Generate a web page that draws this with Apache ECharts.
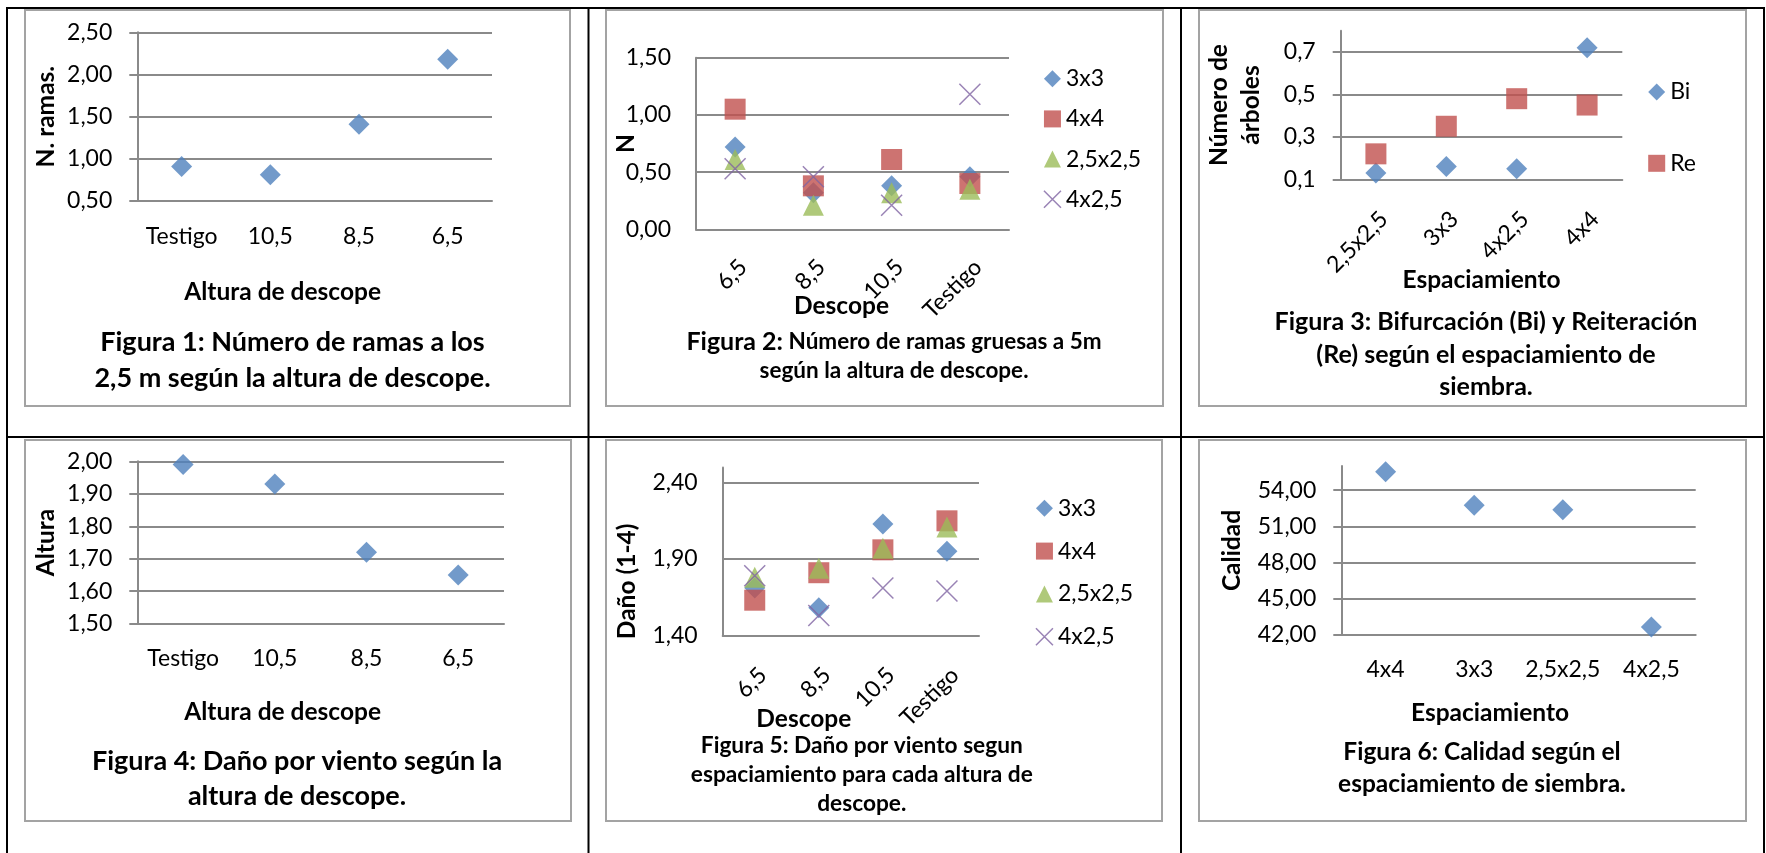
<!DOCTYPE html>
<html><head><meta charset="utf-8">
<script src="https://cdn.jsdelivr.net/npm/echarts@6/dist/echarts.min.js"></script>
<style>html,body{margin:0;padding:0;background:#fff}#c{width:1766px;height:853px}</style>
</head><body><div id="c"></div>
<script>
// ---------------- data ----------------
const fig1Categories = ['Testigo', '10,5', '8,5', '6,5'];
const fig1Values = [0.91, 0.81, 1.41, 2.18];
const fig1YTicks = [0.5, 1.0, 1.5, 2.0, 2.5];

const fig2Categories = ['6,5', '8,5', '10,5', 'Testigo'];
const fig2SeriesNames = ['3x3', '4x4', '2,5x2,5', '4x2,5'];
const fig2_3x3 = [0.72, 0.32, 0.38, 0.46];
const fig2_4x4 = [1.05, 0.38, 0.61, 0.40];
const fig2_25x25 = [0.61, 0.21, 0.32, 0.35];
const fig2_4x25 = [0.53, 0.46, 0.21, 1.18];
const fig2YTicks = [0, 0.5, 1.0, 1.5];

const fig3Categories = ['2,5x2,5', '3x3', '4x2,5', '4x4'];
const fig3SeriesNames = ['Bi', 'Re'];
const fig3Bi = [0.13, 0.16, 0.15, 0.72];
const fig3Re = [0.22, 0.35, 0.48, 0.45];
const fig3YTicks = [0.1, 0.3, 0.5, 0.7];
const fig3YMax = 0.8;

const fig4Categories = ['Testigo', '10,5', '8,5', '6,5'];
const fig4Values = [1.99, 1.93, 1.72, 1.65];
const fig4YTicks = [1.5, 1.6, 1.7, 1.8, 1.9, 2.0];

const fig5Categories = ['6,5', '8,5', '10,5', 'Testigo'];
const fig5SeriesNames = ['3x3', '4x4', '2,5x2,5', '4x2,5'];
const fig5_3x3 = [1.71, 1.58, 2.13, 1.95];
const fig5_4x4 = [1.63, 1.81, 1.96, 2.15];
const fig5_25x25 = [1.78, 1.84, 1.97, 2.11];
const fig5_4x25 = [1.79, 1.53, 1.71, 1.69];
const fig5YTicks = [1.4, 1.9, 2.4];
const fig5YMax = 2.5;

const fig6Categories = ['4x4', '3x3', '2,5x2,5', '4x2,5'];
const fig6Values = [55.53, 52.74, 52.38, 42.66];
const fig6YTicks = [42, 45, 48, 51, 54];
const fig6YMax = 56;

// ---------------- styles ----------------
const FONT = 'Lato, "Open Sans", "DejaVu Sans", sans-serif';
const GRIDC = '#8a8a8a';
const FRAMEC = '#a3a3a3';
const COL = { blue: '#4F81BD', red: '#C0504D', green: '#9BBB59', purple: '#8064A2' };
const XPATH = 'path://M0,0L20,20M20,0L0,20';
const SYM = 21;
const TICKFS = 23;
const TITLEFS = 24.5;

const fmt = (v, d) => v.toFixed(d).replace('.', ',');
const step = t => +(t[1] - t[0]).toFixed(6);

const grids = [
  { left: 137.3, top: 32.3, width: 354.7, height: 168.7 },
  { left: 696, top: 57.7, width: 313, height: 171.6 },
  { left: 1340.7, top: 30.8, width: 281.6, height: 148.5 },
  { left: 137.3, top: 461.3, width: 366.7, height: 162.4 },
  { left: 722.7, top: 467.4, width: 256.3, height: 167.9 },
  { left: 1341.3, top: 466, width: 354.4, height: 169 }
].map(g => Object.assign({ containLabel: false, outerBoundsMode: 'none' }, g));

function xAxisCfg(gi, cats, o) {
  return {
    gridIndex: gi, type: 'category', data: cats, boundaryGap: true,
    axisLine: { show: true, onZero: false, lineStyle: { color: GRIDC, width: 2 } },
    axisTick: { show: false },
    splitLine: { show: false },
    axisLabel: Object.assign({
      interval: 0, margin: o.margin, fontSize: TICKFS, fontFamily: FONT, color: '#000'
    }, o.rotate ? { rotate: 45, align: 'right', verticalAlign: 'top' } : {}),
    name: o.name, nameLocation: 'middle', nameGap: o.nameGap, nameMoveOverlap: false,
    nameTextStyle: { fontSize: TITLEFS, fontWeight: 'bold', fontFamily: FONT, color: '#000',
      padding: [0, o.padR || 0, 0, 0] }
  };
}

function yAxisCfg(gi, ticks, max, o) {
  return {
    gridIndex: gi, type: 'value', min: ticks[0], max: max, interval: step(ticks),
    axisLine: { show: true, lineStyle: { color: GRIDC, width: 2 } },
    axisTick: { show: o.ticks, length: 8, inside: false, customValues: ticks,
      lineStyle: { color: GRIDC, width: 2 } },
    axisLabel: { margin: 25, fontSize: TICKFS, fontFamily: FONT, color: '#000',
      customValues: ticks, formatter: v => fmt(v, o.dec) },
    splitLine: { show: true, lineStyle: { color: GRIDC, width: 2 } },
    name: o.name, nameLocation: 'middle', nameRotate: 90, nameGap: o.nameGap, nameMoveOverlap: false,
    nameTextStyle: { fontSize: TITLEFS, fontWeight: 'bold', fontFamily: FONT, color: '#000',
      lineHeight: o.lh || null, align: 'center', padding: [0, o.padR || 0, 0, 0] }
  };
}

const styles4 = [
  { symbol: 'diamond', itemStyle: { color: COL.blue } },
  { symbol: 'rect', itemStyle: { color: COL.red } },
  { symbol: 'triangle', itemStyle: { color: COL.green } },
  { symbol: XPATH, itemStyle: { color: 'rgba(0,0,0,0)', borderColor: COL.purple, borderWidth: 1.5 } }
];
const icons4 = ['diamond', 'rect', 'triangle', XPATH];

function sc(name, gi, data, st) {
  return Object.assign({
    type: 'scatter', name: name, xAxisIndex: gi, yAxisIndex: gi, data: data,
    symbolSize: SYM, silent: true, z: 3
  }, st);
}

function legendCfg(names, left, top, gap) {
  return {
    orient: 'vertical', left: left, top: top, padding: 0, itemGap: gap,
    itemWidth: 17, itemHeight: 17, selectedMode: false, align: 'left',
    textStyle: { fontSize: TICKFS, fontFamily: FONT, color: '#000', lineHeight: 23 },
    data: names.map((n, i) => ({
      name: n, icon: names.length === 2 ? ['diamond', 'rect'][i] : icons4[i],
      itemStyle: i === 3 ? { color: 'rgba(0,0,0,0)', borderColor: COL.purple, borderWidth: 1.5 } : undefined
    }))
  };
}

// ---------------- graphics: table, frames, captions ----------------
const blk = (x1, y1, x2, y2) => ({ type: 'line', silent: true, z: 10,
  shape: { x1, y1, x2, y2 }, style: { stroke: '#000', lineWidth: 2 } });
const frame = (x, y, w, h) => ({ type: 'rect', silent: true, z: 1,
  shape: { x, y, width: w, height: h }, style: { fill: 'none', stroke: FRAMEC, lineWidth: 2 } });
const caption = (x, y, text, fs, lh) => ({ type: 'text', silent: true, z: 5, x, y,
  style: { text, fontSize: fs, fontWeight: 'bold', fontFamily: FONT, fill: '#000',
    align: 'center', verticalAlign: 'middle', lineHeight: lh } });

const graphics = [
  blk(6, 8, 1765, 8), blk(7, 8, 7, 853), blk(588.5, 8, 588.5, 853), blk(1181, 8, 1181, 853),
  blk(1764, 8, 1764, 853), blk(6, 437, 1765, 437),
  frame(25, 10, 545, 396), frame(606, 10, 557, 396), frame(1199, 10, 547, 396),
  frame(25, 440, 546, 381), frame(606, 440, 556, 381), frame(1199, 440, 547, 381),
  caption(292.5, 360, 'Figura 1: Número de ramas a los\n2,5 m según la altura de descope.', 27, 36),
  { type: 'text', silent: true, z: 5, x: 894, y: 356.2,
    style: { text: '{a|Figura 2:}{b| Número de ramas gruesas a 5m}\n{b|según la altura de descope.}',
      fontFamily: FONT, fontWeight: 'bold', fill: '#000', align: 'center', verticalAlign: 'middle',
      rich: { a: { fontSize: 25, fontWeight: 'bold', fontFamily: FONT, lineHeight: 29 },
              b: { fontSize: 22.5, fontWeight: 'bold', fontFamily: FONT, lineHeight: 29 } } } },
  caption(1486, 354.5, 'Figura 3: Bifurcación (Bi) y Reiteración\n(Re) según el espaciamiento de\nsiembra.', 25, 32.2),
  caption(297, 779.2, 'Figura 4: Daño por viento según la\naltura de descope.', 27, 35),
  caption(861.8, 775, 'Figura 5: Daño por viento segun\nespaciamiento para cada altura de\ndescope.', 22.7, 29),
  caption(1482, 768, 'Figura 6: Calidad según el\nespaciamiento de siembra.', 24.5, 32.7)
];

const option = {
  animation: false,
  backgroundColor: '#fff',
  grid: grids,
  xAxis: [
    xAxisCfg(0, fig1Categories, { margin: 24.5, name: 'Altura de descope', nameGap: 78.7, padR: 64 }),
    xAxisCfg(1, fig2Categories, { margin: 26, rotate: true, name: 'Descope', nameGap: 64.4, padR: 22 }),
    xAxisCfg(2, fig3Categories, { margin: 28, rotate: true, name: 'Espaciamiento', nameGap: 88.5 }),
    xAxisCfg(3, fig4Categories, { margin: 23.5, name: 'Altura de descope', nameGap: 75.7, padR: 76 }),
    xAxisCfg(4, fig5Categories, { margin: 28, rotate: true, name: 'Descope', nameGap: 71.7, padR: 94 }),
    xAxisCfg(5, fig6Categories, { margin: 23.5, name: 'Espaciamiento', nameGap: 66, padR: 57 })
  ],
  yAxis: [
    yAxisCfg(0, fig1YTicks, fig1YTicks[fig1YTicks.length - 1], { ticks: true, dec: 2, name: 'N. ramas.', nameGap: 79 }),
    yAxisCfg(1, fig2YTicks, fig2YTicks[fig2YTicks.length - 1], { ticks: false, dec: 2, name: 'N', nameGap: 57.7 }),
    yAxisCfg(2, fig3YTicks, fig3YMax, { ticks: true, dec: 1, name: 'Número de\nárboles', nameGap: 73.7, lh: 32 }),
    yAxisCfg(3, fig4YTicks, fig4YTicks[fig4YTicks.length - 1], { ticks: true, dec: 2, name: 'Altura', nameGap: 79 }),
    yAxisCfg(4, fig5YTicks, fig5YMax, { ticks: false, dec: 2, name: 'Daño (1-4)', nameGap: 83, padR: 60 }),
    yAxisCfg(5, fig6YTicks, fig6YMax, { ticks: true, dec: 2, name: 'Calidad', nameGap: 96.7 })
  ],
  legend: [
    legendCfg(fig2SeriesNames, 1043.2, 67.2, 17.2),
    legendCfg(fig3SeriesNames, 1648.2, 80.5, 48.3),
    legendCfg(fig5SeriesNames, 1035.2, 496.8, 19.8)
  ],
  series: [
    sc('N. ramas', 0, fig1Values, styles4[0]),
    sc(fig2SeriesNames[0], 1, fig2_3x3, styles4[0]),
    sc(fig2SeriesNames[1], 1, fig2_4x4, styles4[1]),
    sc(fig2SeriesNames[2], 1, fig2_25x25, styles4[2]),
    sc(fig2SeriesNames[3], 1, fig2_4x25, styles4[3]),
    sc(fig3SeriesNames[0], 2, fig3Bi, styles4[0]),
    sc(fig3SeriesNames[1], 2, fig3Re, styles4[1]),
    sc('Altura', 3, fig4Values, styles4[0]),
    sc(fig5SeriesNames[0], 4, fig5_3x3, styles4[0]),
    sc(fig5SeriesNames[1], 4, fig5_4x4, styles4[1]),
    sc(fig5SeriesNames[2], 4, fig5_25x25, styles4[2]),
    sc(fig5SeriesNames[3], 4, fig5_4x25, styles4[3]),
    sc('Calidad', 5, fig6Values, styles4[0])
  ],
  graphic: graphics
};

const chart = echarts.init(document.getElementById('c'), null, { renderer: 'canvas', width: 1766, height: 853 });
chart.setOption(option);
</script>
</body></html>
